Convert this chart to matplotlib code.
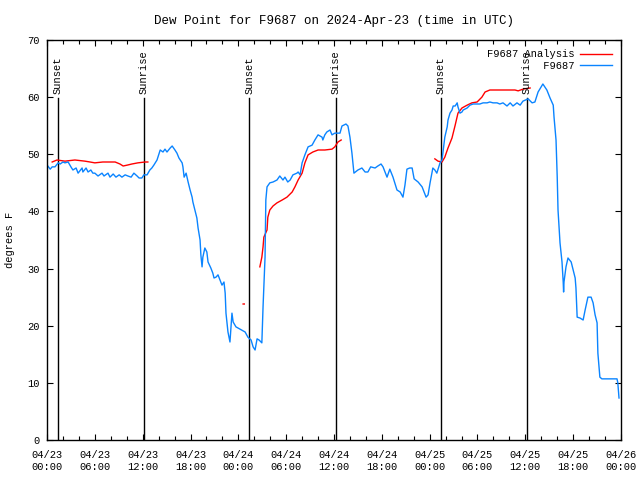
import numpy as np
import matplotlib
matplotlib.use("Agg")
import matplotlib.pyplot as plt
from matplotlib.ticker import MultipleLocator

# hours since 2024-04-23 00:00 UTC
obs_hours = [0.1, 0.4, 0.65, 1.0, 1.4, 1.65, 2.0, 2.25, 2.65, 3.0, 3.25, 3.65, 3.9, 4.4, 4.5, 4.9,
             5.15, 5.5, 5.75, 6.0, 6.4, 6.9, 7.15, 7.65, 7.9, 8.3, 8.65, 9.05, 9.4, 9.8, 10.15,
             10.55, 10.9, 11.3, 11.55, 11.9, 12.15, 12.55, 12.9, 13.15, 13.4, 13.8, 14.2, 14.55,
             14.8, 15.05, 15.45, 15.7, 16.05, 16.3, 16.55, 16.95, 17.05, 17.2, 17.45, 17.7, 17.95,
             18.2, 18.3, 18.55, 18.8, 18.95, 19.2, 19.3, 19.45, 19.55, 19.8, 20.05, 20.2, 20.55,
             20.8, 20.95, 21.2, 21.45, 21.7, 21.95, 22.2, 22.35, 22.45, 22.7, 22.95, 23.2, 23.35,
             23.7, 24.2, 24.85, 25.2, 25.6, 25.85, 26.1, 26.35, 26.6, 26.95, 27.1, 27.35, 27.45,
             27.6, 27.95, 28.35, 28.85, 29.2, 29.6, 29.85, 30.2, 30.5, 30.85, 31.35, 31.5, 31.75,
             32.0, 32.35, 32.75, 33.25, 33.6, 34.0, 34.5, 34.6, 34.85, 35.1, 35.5, 35.75, 36.1,
             36.75, 37.0, 37.5, 37.75, 38.0, 38.25, 38.5, 39.0, 39.5, 39.9, 40.25, 40.6, 41.15,
             41.5, 41.9, 42.15, 42.65, 43.0, 43.4, 43.9, 44.3, 44.65, 44.9, 45.15, 45.5, 45.8,
             46.05, 46.55, 47.05, 47.55, 47.8, 48.05, 48.4, 48.65, 48.9, 49.3, 49.55, 49.7, 49.9,
             50.2, 50.3, 50.55, 50.8, 50.95, 51.2, 51.45, 51.55, 51.8, 52.05, 52.2, 52.7, 53.05,
             53.45, 53.95, 54.3, 54.7, 55.2, 55.55, 55.95, 56.45, 56.8, 57.2, 57.7, 58.1, 58.45,
             58.95, 59.35, 59.7, 60.35, 60.85, 61.2, 61.6, 62.2, 62.7, 63.1, 63.5, 63.6, 63.85,
             64.0, 64.1, 64.35, 64.6, 64.75, 64.8, 64.85, 65.1, 65.35, 65.75, 66.0, 66.25, 66.35,
             66.5, 66.85, 67.25, 67.5, 67.85, 68.25, 68.5, 68.75, 69.0, 69.1, 69.35, 69.6, 71.5,
             71.6, 71.75]
obs_dew = [47.95, 47.4, 47.8, 47.8, 48.5, 48.3, 48.65, 48.5, 48.65, 47.8, 47.25, 47.6, 46.7, 47.6,
           46.9, 47.6, 46.9, 47.25, 46.7, 46.7, 46.2, 46.7, 46.2, 46.7, 46.0, 46.55, 46.0, 46.4,
           46.0, 46.4, 46.2, 46.0, 46.7, 46.2, 45.85, 45.85, 46.4, 46.4, 47.25, 47.6, 48.1, 49.0,
           50.75, 50.4, 50.9, 50.4, 51.1, 51.45, 50.75, 50.2, 49.35, 48.5, 47.8, 46.0, 46.7, 45.15,
           43.75, 42.5, 41.65, 40.25, 38.85, 37.1, 35.0, 32.4, 30.3, 32.0, 33.6, 32.9, 31.15, 30.1,
           29.2, 28.35, 28.5, 28.9, 28.0, 27.1, 27.65, 25.7, 22.2, 18.9, 17.15, 22.2, 20.65, 19.8,
           19.4, 18.9, 18.0, 17.5, 16.3, 15.75, 17.7, 17.5, 17.0, 23.3, 32.0, 42.0, 44.3, 45.0,
           45.15, 45.5, 46.2, 45.5, 46.0, 45.15, 45.5, 46.4, 46.7, 46.9, 46.4, 48.5, 49.9, 51.3,
           51.6, 52.5, 53.4, 53.0, 52.5, 53.4, 53.9, 54.25, 53.4, 53.7, 53.7, 54.95, 55.3, 54.95,
           53.0, 50.2, 46.7, 47.25, 47.6, 46.9, 46.9, 47.8, 47.6, 47.95, 48.3, 47.8, 46.0, 47.4,
           46.0, 43.75, 43.4, 42.5, 44.6, 47.4, 47.6, 47.6, 45.7, 45.15, 44.3, 42.5, 42.9, 45.0,
           47.6, 47.25, 46.7, 48.5, 49.0, 50.75, 53.0, 54.8, 56.0, 57.2, 57.75, 58.45, 58.45,
           59.0, 58.3, 57.2, 57.4, 57.75, 58.1, 58.6, 58.8, 58.8, 58.8, 59.0, 59.0, 59.15, 59.0,
           59.0, 58.8, 59.0, 58.45, 59.0, 58.45, 59.0, 58.6, 59.3, 59.7, 59.0, 59.15, 60.9, 62.3,
           61.25, 59.85, 58.6, 56.5, 52.5, 46.0, 40.25, 34.5, 31.15, 27.65, 25.9, 27.65, 30.3,
           31.85, 31.15, 29.75, 28.35, 26.6, 21.5, 21.35, 21.0, 22.75, 25.0, 25.0, 24.0, 21.9,
           20.5, 15.2, 11.0, 10.7, 10.7, 10.0, 7.35]

nan = float("nan")
ana_hours = [0.65, 1.25, 2.25, 3.5, 4.75, 5.4, 6.0, 7.0, 8.55, 9.15, 9.55, 10.05, 10.65, 11.4,
             12.3, 12.65, nan,
             24.6, 24.75, nan,
             26.7, 26.95, 27.1, 27.2, 27.6, 27.7, 27.95, 28.35, 28.85, 29.5, 30.1, 30.75, 31.1,
             31.5, 32.0, 32.35, 32.75, 33.35, 34.0, 34.85, 35.75, 36.1, 36.5, 36.9, nan,
             48.65, 49.05, 49.55, 49.9, 50.3, 50.8, 51.2, 51.55, 52.05, 52.7, 53.3, 53.95, 54.55,
             54.95, 55.55, 56.45, 57.7, 58.7, 59.1, 59.7, 60.6]
ana_dew = [48.65, 49.0, 48.8, 49.0, 48.8, 48.65, 48.5, 48.65, 48.65, 48.3, 47.95, 48.1, 48.3, 48.5,
           48.65, 48.65, nan,
           23.8, 23.8, nan,
           30.3, 32.0, 33.8, 35.5, 36.75, 39.0, 40.25, 40.95, 41.5, 42.0, 42.5, 43.4, 44.3, 45.5,
           46.7, 48.5, 49.9, 50.4, 50.75, 50.75, 50.9, 51.3, 52.15, 52.5, nan,
           49.2, 48.8, 48.65, 49.5, 51.1, 52.85, 55.1, 57.2, 58.1, 58.6, 59.0, 59.15, 60.0, 60.9,
           61.25, 61.25, 61.25, 61.25, 61.1, 61.4, 61.6]

sun_hours = [1.38, 12.17, 25.35, 36.26, 49.4, 60.2]
sun_labels = ["Sunset", "Sunrise", "Sunset", "Sunrise", "Sunset", "Sunrise"]

tick_hours = list(range(0, 73, 6))
tick_labels = ["04/23\n00:00", "04/23\n06:00", "04/23\n12:00", "04/23\n18:00",
               "04/24\n00:00", "04/24\n06:00", "04/24\n12:00", "04/24\n18:00",
               "04/25\n00:00", "04/25\n06:00", "04/25\n12:00", "04/25\n18:00",
               "04/26\n00:00"]

plt.rcParams['font.family'] = ['Liberation Mono', 'DejaVu Sans Mono']
plt.rcParams['font.size'] = 7.5

fig = plt.figure(figsize=(6.4, 4.8), dpi=100)
ax = fig.add_axes([47/640, 40/480, 574/640, 400/480])

for h, lab in zip(sun_hours, sun_labels):
    ax.plot([h, h], [0, 59.9], color='black', lw=1.0)
    ax.text(h, 60.6, lab, rotation=90, ha='center', va='bottom')

ax.plot(ana_hours, ana_dew, color='#ff0000', lw=1.0, label='F9687 Analysis')
ax.plot(obs_hours, obs_dew, color='#0a84ff', lw=1.0, label='         F9687')

ax.set_xlim(0, 72)
ax.set_ylim(0, 70)
ax.set_xticks(tick_hours)
ax.set_xticklabels(tick_labels)
ax.xaxis.set_minor_locator(MultipleLocator(2))
ax.set_yticks(range(0, 71, 10))
ax.tick_params(which='both', direction='in', top=True, right=True, width=0.8)
ax.tick_params(which='major', length=4, pad=7.5)
ax.tick_params(which='minor', length=3)
ax.tick_params(axis='y', pad=5)
for s in ax.spines.values():
    s.set_linewidth(1.0)

ax.set_title('Dew Point for F9687 on 2024-Apr-23 (time in UTC)', pad=11.5)
fig.text(10/640, 0.5, 'degrees F', rotation=90, ha='center', va='center')

leg = ax.legend(loc='upper right', frameon=False, markerfirst=False, handlelength=3.0,
                borderaxespad=0.5, handletextpad=0.6, labelspacing=0.15)

fig.savefig('out.png', dpi=100)
